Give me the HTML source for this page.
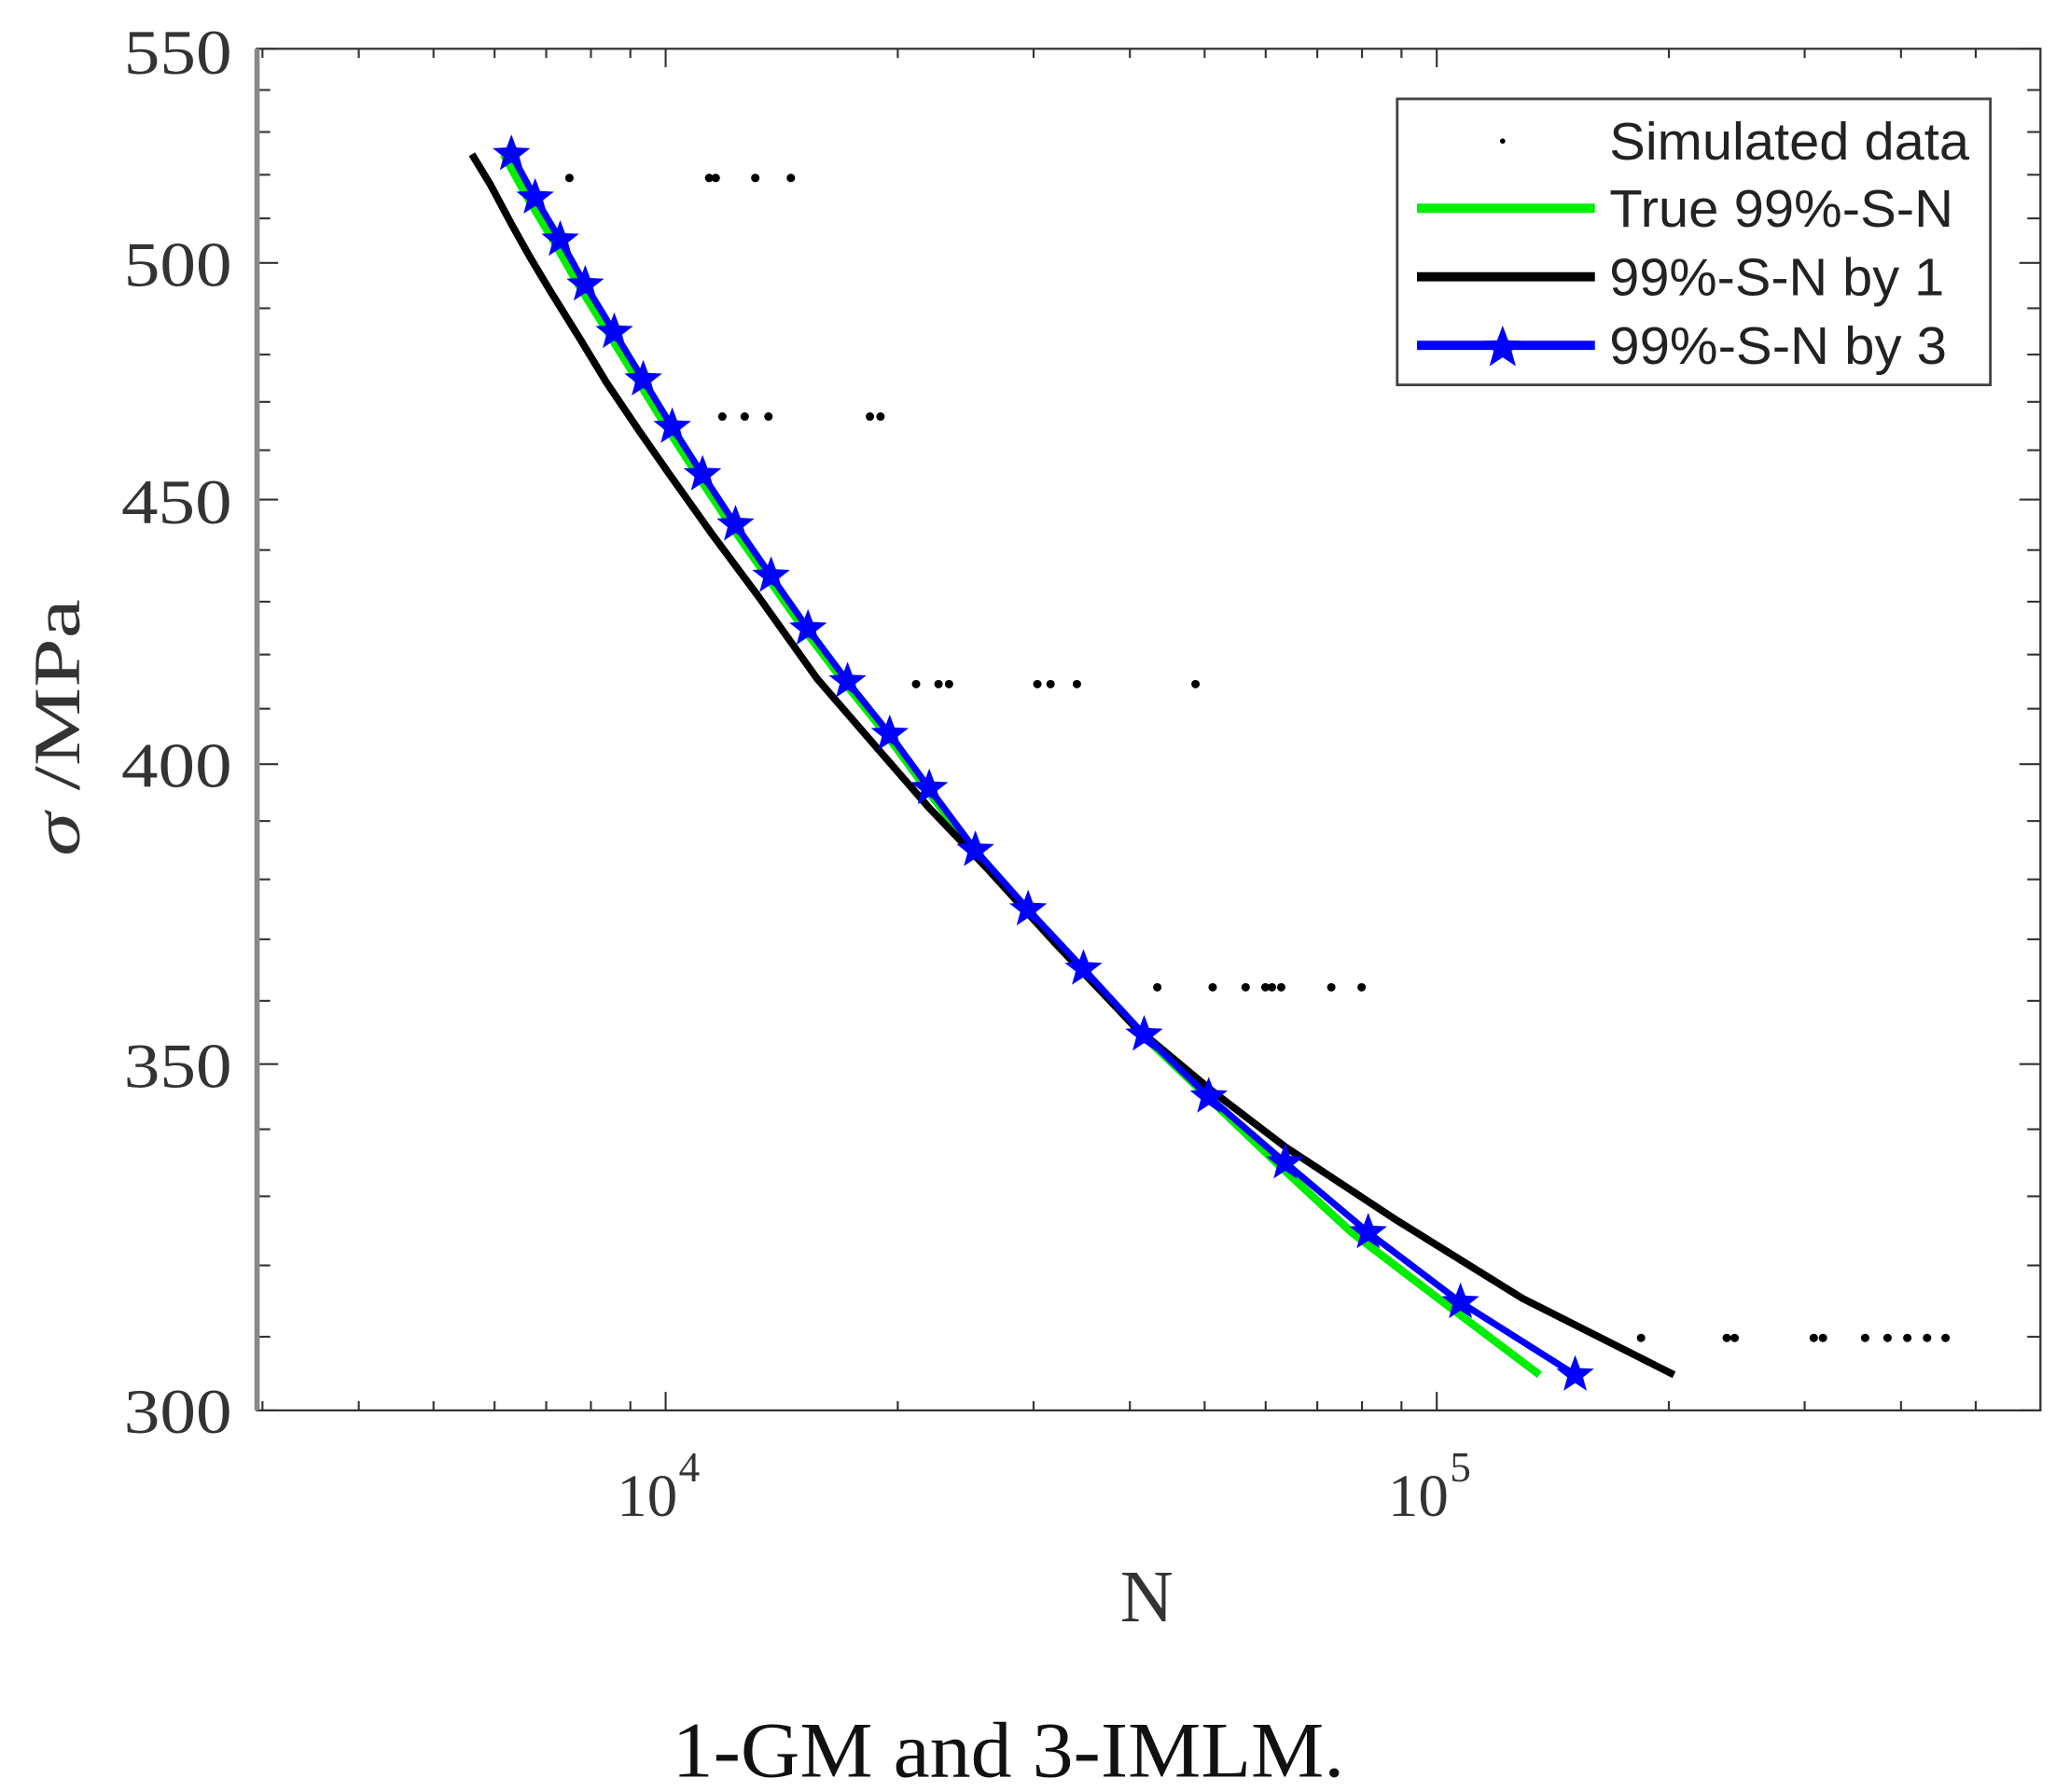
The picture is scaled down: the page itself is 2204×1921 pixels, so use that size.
<!DOCTYPE html>
<html><head><meta charset="utf-8"><style>
html,body{margin:0;padding:0;background:#fff;}
svg{display:block;}
</style></head><body>
<svg id="s" width="2204" height="1921" viewBox="0 0 1559.8 1359.5" preserveAspectRatio="none" xmlns="http://www.w3.org/2000/svg">
<rect width="1560" height="1360" fill="#fff"/>
<g id="ticks" stroke="#333" stroke-width="1.5"></g>
<rect x="195" y="37" width="1353" height="1033" fill="none" stroke="#333" stroke-width="1.6"/>
<line x1="195" y1="37" x2="195" y2="1070" stroke="#888" stroke-width="4"/>
<g font-family="Liberation Serif, serif" font-size="48" fill="#333" text-anchor="end">
<text x="176" y="56" textLength="82" lengthAdjust="spacingAndGlyphs">550</text>
<text x="176" y="217" textLength="82" lengthAdjust="spacingAndGlyphs">500</text>
<text x="176" y="397" textLength="84" lengthAdjust="spacingAndGlyphs">450</text>
<text x="176" y="597" textLength="84" lengthAdjust="spacingAndGlyphs">400</text>
<text x="176" y="825" textLength="82" lengthAdjust="spacingAndGlyphs">350</text>
<text x="176" y="1087" textLength="82" lengthAdjust="spacingAndGlyphs">300</text>
</g>
<g font-family="Liberation Serif, serif" fill="#333">
<text x="468" y="1150" font-size="46">10</text><text x="515" y="1124" font-size="32">4</text>
<text x="1053" y="1150" font-size="46">10</text><text x="1100" y="1124" font-size="32">5</text>
<text x="870" y="1230" font-size="56" text-anchor="middle">N</text>
<text transform="translate(60,552) rotate(-90)" font-size="50" text-anchor="middle" textLength="195" lengthAdjust="spacingAndGlyphs"><tspan font-style="italic">σ</tspan>  /MPa</text>
<text x="765" y="1348" font-size="60" text-anchor="middle" fill="#111" textLength="510" lengthAdjust="spacingAndGlyphs">1-GM and 3-IMLM.</text>
</g>
<g id="dots" fill="#000"></g>
<polyline id="green" fill="none" stroke="#00ee00" stroke-width="6"/>
<polyline id="black" fill="none" stroke="#000" stroke-width="5.5" stroke-linejoin="round"/>
<polyline id="blue" fill="none" stroke="#0000ff" stroke-width="5"/>
<g id="stars" fill="#0000ff"></g>
<rect x="1060" y="75" width="450" height="217" fill="#fff" stroke="#444" stroke-width="2"/>
<circle cx="1140" cy="107" r="2" fill="#000"/>
<line x1="1075" y1="158" x2="1210" y2="158" stroke="#00ee00" stroke-width="7"/>
<line x1="1075" y1="210" x2="1210" y2="210" stroke="#000" stroke-width="7"/>
<line x1="1075" y1="262" x2="1210" y2="262" stroke="#0000ff" stroke-width="7"/>
<g id="lstar" fill="#0000ff"></g>
<g font-family="Liberation Sans, sans-serif" font-size="40" fill="#222">
<text x="1221" y="121" textLength="273" lengthAdjust="spacingAndGlyphs">Simulated data</text>
<text x="1221" y="172" textLength="261" lengthAdjust="spacingAndGlyphs">True 99%-S-N</text>
<text x="1221" y="224" textLength="254" lengthAdjust="spacingAndGlyphs">99%-S-N by 1</text>
<text x="1221" y="276" textLength="256" lengthAdjust="spacingAndGlyphs">99%-S-N by 3</text>
</g>
</svg>
<script>
function X(n){return 505+(Math.log10(n)-4)*585;}
function Y(s){return 37+(Math.log10(550)-Math.log10(s))/Math.log10(550/300)*1033;}
var t=document.getElementById('ticks'),h='';
for(var s=300;s<=550;s+=10){var y=Y(s),L=(s%50==0)?16:10;
h+='<line x1="195" y1="'+y+'" x2="'+(195+L)+'" y2="'+y+'"/><line x1="1548" y1="'+y+'" x2="'+(1548-L)+'" y2="'+y+'"/>';}
[3e3,4e3,5e3,6e3,7e3,8e3,9e3,1e4,2e4,3e4,4e4,5e4,6e4,7e4,8e4,9e4,1e5,2e5,3e5,4e5,5e5].forEach(function(n){var x=X(n);if(x<196||x>1547)return;var L=(n==1e4||n==1e5)?14:7;
h+='<line x1="'+x+'" y1="1070" x2="'+x+'" y2="'+(1070-L)+'"/><line x1="'+x+'" y1="37" x2="'+x+'" y2="'+(37+L)+'"/>';});
t.innerHTML=h;
var d=[[135,[432,538,543,573,600]],[316,[548,565,583,660,668]],[519,[695,712,720,787,797,817,907]],[749,[878,920,945,960,965,972,1010,1033]],[1015,[1245,1310,1316,1376,1383,1415,1432,1447,1462,1476]]];
h='';d.forEach(function(r){r[1].forEach(function(x){h+='<circle cx="'+x+'" cy="'+r[0]+'" r="3.2"/>';});});
document.getElementById('dots').innerHTML=h;
var bl=[[358,117],[372,140],[388,170],[402,195],[417,220],[440,257],[460,290],[485,327],[508,360],[540,405],[575,452],[620,515],[665,567],[705,613],[750,660],[800,715],[860,778],[920,828],[975,870],[1060,926],[1155,985],[1270,1043]];
document.getElementById('black').setAttribute('points',bl.map(function(p){return p.join(',')}).join(' '));
var sp=[[388,117],[406,150],[425,182],[444,216],[466,252],[488,288],[510,324],[533,360],[558,398],[585,437],[613,477],[643,517],[675,557],[705,598],[740,645],[780,690],[822,735],[868,785],[917,832],[975,882],[1038,935],[1108,988],[1195,1043]];
document.getElementById('blue').setAttribute('points',sp.map(function(p){return p.join(',')}).join(' '));
var gp=sp.map(function(p,i){var f=i/22;return [p[0]-6*(1-f)-(i>18?(i-18)*6:0),p[1]];});
gp[22]=[1168,1043];gp[21]=[1095,988];
document.getElementById('green').setAttribute('points',gp.map(function(p){return p.join(',')}).join(' '));
function star(cx,cy,R){var r=R*0.42,p=[];for(var i=0;i<10;i++){var a=-Math.PI/2+i*Math.PI/5,rr=i%2?r:R;p.push((cx+rr*Math.cos(a)).toFixed(1)+','+(cy+rr*Math.sin(a)).toFixed(1));}return '<polygon points="'+p.join(' ')+'"/>';}
h='';sp.forEach(function(p){h+=star(p[0],p[1],15);});
document.getElementById('stars').innerHTML=h;
document.getElementById('lstar').innerHTML=star(1140,264,17);
</script>
</body></html>
